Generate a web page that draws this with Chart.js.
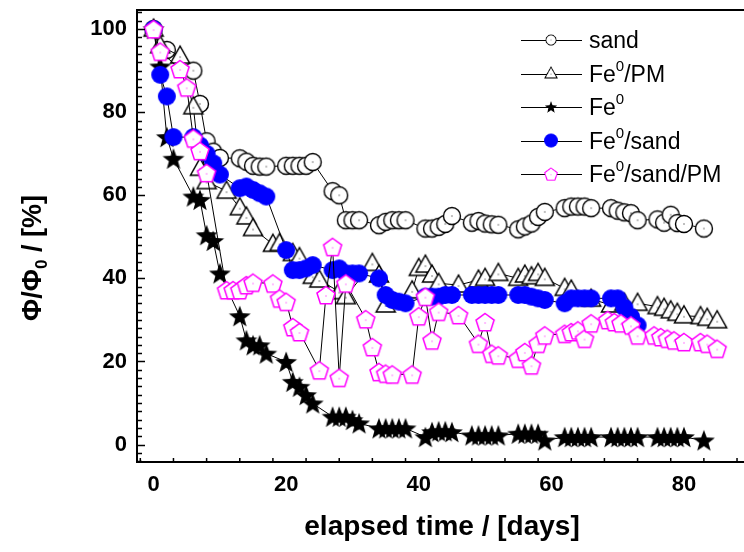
<!DOCTYPE html>
<html>
<head>
<meta charset="utf-8">
<script src="https://cdn.jsdelivr.net/npm/chart.js@4.4.1/dist/chart.umd.min.js"></script>
<style>
  html, body { margin: 0; padding: 0; background: #fff; }
  #wrap { width: 744px; height: 552px; }
</style>
</head>
<body>
<div id="wrap"><canvas id="chart" width="744" height="552"></canvas></div>
<script>
// values: elapsed days and Phi/Phi0 in %
var sandDays = [0, 2, 6, 7, 8, 9, 10, 13, 14, 15, 16, 17, 20, 21, 22, 23, 24, 27, 28, 29, 30, 31, 34, 35, 36, 37, 38, 41, 42, 43, 44, 45, 48, 49, 50, 51, 52, 55, 56, 57, 58, 59, 62, 63, 64, 65, 66, 69, 70, 71, 72, 73, 76, 77, 78, 79, 80, 83];
var sandPct = [100, 95, 90, 82, 73, 70.5, 69, 68.9, 68.1, 67.1, 66.9, 66.9, 67.1, 67.1, 67.1, 67.1, 68, 61, 60, 54, 54, 54, 52.8, 53.6, 54, 54, 54, 52, 52, 52.4, 53.1, 55, 53.4, 53.8, 53.2, 53, 52.9, 51.8, 52.5, 53.2, 54.8, 56, 56.9, 57.3, 57.3, 57.3, 56.9, 56.9, 56.3, 55.9, 55.7, 54, 54.2, 53.4, 55.3, 53.3, 53.1, 52];

var fePmDays = [0, 1, 4, 6, 7, 8, 11, 13, 14, 15, 18, 19, 21, 22, 24, 25, 28, 29, 33, 34, 35, 39, 40, 41, 42, 43, 46, 49, 50, 52, 55, 56, 57, 58, 59, 62, 63, 66, 69, 71, 73, 76, 77, 78, 79, 80, 82.5, 83.5, 85];
var fePmPct = [100, 96, 93.5, 81.3, 66.5, 63.3, 61, 57, 54.8, 52, 48.2, 48.4, 46, 45, 40.5, 39.6, 36.8, 35.6, 43.6, 40.8, 33.6, 37, 42.4, 43.2, 40.8, 38.8, 38.4, 39.6, 40, 41.2, 40, 40.8, 40.4, 41.2, 40, 37.6, 37.2, 35, 33.6, 34, 34, 33.2, 32.8, 32.2, 31.6, 31, 30.8, 30.4, 29.8];

var feDays = [0, 1, 2, 3, 6, 7, 8, 9, 10, 13, 14, 15, 16, 17, 20, 21, 22, 23, 24, 27, 28, 29, 30, 31, 34, 35, 36, 37, 38, 41, 42, 43, 44, 45, 48, 49, 50, 51, 52, 55, 56, 57, 58, 59, 62, 63, 64, 65, 66, 69, 70, 71, 72, 73, 76, 77, 78, 79, 80, 83];
var fePct = [100, 91, 74, 68.8, 59.7, 58.9, 50.4, 49, 41.2, 30.9, 25.1, 23.9, 23.9, 21.9, 19.9, 15.1, 13.9, 11.9, 9.9, 6.7, 6.7, 6.7, 5.9, 5.1, 3.9, 3.9, 3.9, 3.9, 3.9, 1.8, 3, 3.2, 3.2, 3, 2.2, 2.2, 2.2, 2.2, 2.2, 2.6, 2.6, 2.6, 2.6, 1, 1.8, 1.8, 1.8, 1.8, 1.8, 1.8, 1.8, 1.8, 1.8, 1.8, 1.8, 1.8, 1.8, 1.8, 1.8, 1];

var feSandDays = [0, 1, 2, 3, 6, 7, 8, 9, 10, 13, 14, 15, 16, 17, 20, 21, 22, 23, 24, 27, 28, 29, 30, 31, 34, 35, 36, 37, 38, 41, 42, 43, 44, 45, 48, 49, 50, 51, 52, 55, 56, 57, 58, 59, 62, 63, 64, 65, 66, 69, 70, 71, 72, 73];
var feSandPct = [100, 89, 83.8, 74, 74, 72, 70, 67.7, 65, 61.7, 62.1, 61.3, 60.5, 59.7, 46.8, 42, 42, 42.4, 43.2, 42, 42.4, 41.2, 41.2, 41.2, 40, 36, 34.8, 34.4, 34, 35.6, 35.6, 35.6, 36, 36, 36, 36, 36, 36, 36, 36, 36, 35.6, 35.2, 34.8, 34, 35.2, 35.2, 35.2, 35.2, 35.2, 35.2, 33, 30.8, 28.7];

var feSandPmDays = [0, 1, 4, 5, 6, 7, 8, 11, 12, 13, 14, 15, 18, 19, 20, 21, 22, 25, 26, 27, 28, 29, 32, 33, 34, 35, 36, 39, 40, 41, 42, 43, 46, 49, 50, 51, 52, 55, 56, 57, 58, 59, 62, 63, 64, 65, 66, 68.5, 69.5, 70.5, 72, 73, 75.5, 76.5, 77.5, 78.5, 80, 82.5, 83.5, 85];
var feSandPmPct = [100, 94.6, 90.4, 86, 73.7, 70.7, 65.4, 37.2, 37.2, 37.2, 38.4, 39, 38.8, 35.2, 34.4, 28.3, 27.1, 17.9, 36, 47.6, 16.1, 38.8, 30.2, 23.5, 17.5, 17.1, 16.9, 16.9, 30.9, 35.6, 25.1, 32, 31.2, 24.3, 29.5, 21.9, 21.5, 20.7, 22.3, 19.1, 24.3, 26.3, 26.7, 27.1, 27.5, 25.5, 29.2, 30, 29.5, 29.2, 28.7, 26.3, 26.3, 25.9, 25.5, 25.1, 24.7, 24.7, 24.3, 23.1];

// legend text, "^0" marks a superscript zero
var seriesLabels = ['sand', 'Fe^0/PM', 'Fe^0', 'Fe^0/sand', 'Fe^0/sand/PM'];
var xTicks = [0, 20, 40, 60, 80];
var yTicks = [0, 20, 40, 60, 80, 100];

function pts(days, pct) {
  return days.map(function (d, i) { return { x: d, y: pct[i] }; });
}

// origin-like markers drawn once onto small canvases
function makeMarker(kind) {
  var c = document.createElement('canvas');
  c.width = 26; c.height = 26;
  var g = c.getContext('2d');
  var cx = 13, cy = 13, i, a;
  g.lineJoin = 'miter';
  if (kind === 'circle') {
    g.beginPath(); g.arc(cx, cy, 8.5, 0, Math.PI * 2);
    g.fillStyle = '#fff'; g.fill();
    g.lineWidth = 1.4; g.strokeStyle = '#000'; g.stroke();
    g.fillStyle = '#000'; g.fillRect(cx - 0.5, cy - 0.5, 1, 1);
  } else if (kind === 'triangle') {
    g.beginPath(); g.moveTo(cx, cy - 10); g.lineTo(cx + 9.5, cy + 7); g.lineTo(cx - 9.5, cy + 7); g.closePath();
    g.fillStyle = '#fff'; g.fill();
    g.lineWidth = 1.5; g.strokeStyle = '#000'; g.stroke();
    g.fillStyle = '#000'; g.fillRect(cx - 0.5, cy + 0.5, 1, 1);
  } else if (kind === 'star') {
    g.beginPath();
    for (i = 0; i < 10; i++) {
      a = -Math.PI / 2 + i * Math.PI / 5;
      var r = i % 2 === 0 ? 11.5 : 4.8;
      g.lineTo(cx + r * Math.cos(a), cy + 1 + r * Math.sin(a));
    }
    g.closePath(); g.fillStyle = '#000'; g.fill();
  } else if (kind === 'disc') {
    g.beginPath(); g.arc(cx, cy, 9, 0, Math.PI * 2);
    g.fillStyle = '#0000ff'; g.fill();
  } else if (kind === 'pentagon') {
    g.beginPath();
    for (i = 0; i < 5; i++) {
      a = -Math.PI / 2 + i * 2 * Math.PI / 5;
      g.lineTo(cx + 9.5 * Math.cos(a), cy + 1 + 9.5 * Math.sin(a));
    }
    g.closePath(); g.fillStyle = '#fff'; g.fill();
    g.lineWidth = 1.5; g.strokeStyle = '#ff00ff'; g.stroke();
    g.fillStyle = '#ff00ff'; g.fillRect(cx - 0.5, cy + 0.5, 1, 1);
  }
  return c;
}

var markers = [makeMarker('circle'), makeMarker('triangle'), makeMarker('star'), makeMarker('disc'), makeMarker('pentagon')];
var legendScale = [0.6, 0.64, 0.56, 0.78, 0.7];

function series(i, days, pct) {
  return {
    label: seriesLabels[i],
    data: pts(days, pct),
    showLine: true,
    borderColor: '#000',
    borderWidth: 1,
    tension: 0,
    pointStyle: markers[i],
    pointRadius: 8,
    pointHoverRadius: 8,
    order: 5 - i
  };
}

// frame, inward ticks, axis titles and legend
var decorations = {
  id: 'decorations',
  afterDraw: function (chart) {
    var ctx = chart.ctx;
    var area = chart.chartArea;
    var xs = chart.scales.x, ys = chart.scales.y;
    var v, p;
    ctx.save();
    ctx.strokeStyle = '#000';
    ctx.lineWidth = 2;
    ctx.beginPath();
    ctx.moveTo(area.left, area.top); ctx.lineTo(chart.width, area.top);
    ctx.moveTo(area.left, area.top - 1); ctx.lineTo(area.left, area.bottom + 1);
    ctx.moveTo(area.left - 1, area.bottom); ctx.lineTo(chart.width, area.bottom);
    ctx.stroke();

    ctx.lineWidth = 1.5;
    ctx.beginPath();
    for (v = -2; v <= 104; v += 5) {
      if (v < xs.min || v > xs.max) continue;
      p = xs.getPixelForValue(v);
      var len = (v % 20 === 0) ? 7 : 4;
      ctx.moveTo(p, area.bottom); ctx.lineTo(p, area.bottom - len);
    }
    for (v = -4; v <= 104; v += 2) {
      if (v < ys.min || v > ys.max) continue;
      p = Math.round(ys.getPixelForValue(v)) + 0.5;
      var ylen = (v % 20 === 0) ? 8 : 5;
      ctx.moveTo(area.left, p); ctx.lineTo(area.left + ylen, p);
    }
    ctx.stroke();

    // x title
    ctx.fillStyle = '#000';
    ctx.font = 'bold 28px "Liberation Sans", Arial, sans-serif';
    ctx.textAlign = 'center';
    ctx.textBaseline = 'middle';
    ctx.fillText('elapsed time / [days]', 442, 527);

    // y title with subscript
    ctx.save();
    ctx.translate(31, 258);
    ctx.rotate(-Math.PI / 2);
    var big = 'bold 27px "Liberation Sans", Arial, sans-serif';
    var small = 'bold 17px "Liberation Sans", Arial, sans-serif';
    ctx.font = big;
    var w1 = ctx.measureText('\u03A6/\u03A6').width;
    var w3 = ctx.measureText(' / [%]').width;
    ctx.font = small;
    var w2 = ctx.measureText('0').width;
    var x0 = -(w1 + w2 + w3) / 2;
    ctx.textAlign = 'left';
    ctx.textBaseline = 'alphabetic';
    ctx.font = big;
    ctx.fillText('\u03A6/\u03A6', x0, 10);
    ctx.font = small;
    ctx.fillText('0', x0 + w1, 16);
    ctx.font = big;
    ctx.fillText(' / [%]', x0 + w1 + w2, 10);
    ctx.restore();

    // legend
    var rows = [40, 73.5, 107, 140.5, 174];
    for (var i = 0; i < seriesLabels.length; i++) {
      var y = rows[i];
      ctx.strokeStyle = '#000';
      ctx.lineWidth = 1;
      ctx.beginPath();
      ctx.moveTo(521, Math.round(y) + 0.5); ctx.lineTo(582, Math.round(y) + 0.5);
      ctx.stroke();
      var m = markers[i], s = legendScale[i];
      ctx.drawImage(m, 551 - m.width * s / 2, y - m.height * s / 2, m.width * s, m.height * s);
      var parts = seriesLabels[i].split('^');
      var tx = 589;
      ctx.textAlign = 'left';
      ctx.textBaseline = 'alphabetic';
      ctx.fillStyle = '#000';
      ctx.font = '23px "Liberation Sans", Arial, sans-serif';
      ctx.fillText(parts[0], tx, y + 8);
      tx += ctx.measureText(parts[0]).width;
      if (parts.length > 1) {
        var sup = parts[1].charAt(0), rest = parts[1].slice(1);
        ctx.font = '15px "Liberation Sans", Arial, sans-serif';
        ctx.fillText(sup, tx, y - 3);
        tx += ctx.measureText(sup).width;
        ctx.font = '23px "Liberation Sans", Arial, sans-serif';
        ctx.fillText(rest, tx, y + 8);
      }
    }
    ctx.restore();
  }
};

var chart = new Chart(document.getElementById('chart'), {
  type: 'scatter',
  data: {
    datasets: [
      series(0, sandDays, sandPct),
      series(1, fePmDays, fePmPct),
      series(2, feDays, fePct),
      series(3, feSandDays, feSandPct),
      series(4, feSandPmDays, feSandPmPct)
    ]
  },
  options: {
    responsive: false,
    devicePixelRatio: 1,
    animation: false,
    layout: { autoPadding: false, padding: { top: 10, right: 2, left: 0, bottom: 0 } },
    plugins: { legend: { display: false }, tooltip: { enabled: false } },
    scales: {
      x: {
        type: 'linear',
        min: -2.5,
        max: 88.75,
        grid: { display: false, drawTicks: false },
        border: { display: false },
        afterBuildTicks: function (scale) { scale.ticks = xTicks.map(function (v) { return { value: v }; }); },
        afterFit: function (scale) {
          scale.height = 90;
          scale.paddingLeft = 0; scale.paddingRight = 0;
        },
        ticks: {
          color: '#000',
          padding: 10,
          maxRotation: 0,
          font: { family: '"Liberation Sans", Arial, sans-serif', size: 22, weight: 'bold' }
        }
      },
      y: {
        type: 'linear',
        min: -4.2,
        max: 104.6,
        grid: { display: false, drawTicks: false },
        border: { display: false },
        afterBuildTicks: function (scale) { scale.ticks = yTicks.map(function (v) { return { value: v }; }); },
        afterFit: function (scale) {
          scale.width = 137;
          scale.paddingTop = 0; scale.paddingBottom = 0;
        },
        ticks: {
          color: '#000',
          padding: 10,
          font: { family: '"Liberation Sans", Arial, sans-serif', size: 22, weight: 'bold' }
        }
      }
    }
  },
  plugins: [decorations]
});
</script>
</body>
</html>
